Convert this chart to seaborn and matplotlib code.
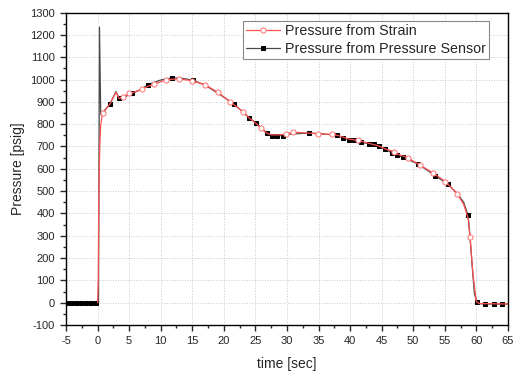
import numpy as np
import matplotlib
matplotlib.use("Agg")
import matplotlib.pyplot as plt
from matplotlib.ticker import MultipleLocator
import seaborn as sns

# --- data ---
# pressure from strain (red line, open circles)
strain_t = [0.0, 0.1, 0.2, 0.35, 0.5, 0.8, 1.95, 2.9, 3.4, 4.0, 5.0, 6.0,
            7.0, 8.0, 9.0, 10.9, 12.9, 14.9, 17.0, 19.1, 21.0, 23.0, 24.05, 25.05,
            25.9, 26.8, 27.6, 28.4, 29.3, 29.9, 31.0, 33.5, 34.9, 37.1, 38.0, 39.85,
            41.3, 43.0, 44.6, 45.5, 46.9, 47.5, 49.1, 51.0, 53.1, 55.1, 57.0, 58.0,
            58.7, 59.0, 59.5, 60.0, 60.5, 65.0]
strain_p = [0, 100, 500, 700, 800, 849, 890, 943, 915, 922, 939, 945,
            957, 970, 979, 1000, 1003, 995, 977, 942, 901, 856, 827, 805,
            782, 760, 752, 752, 753, 757, 764, 760, 757, 754, 750, 733,
            727, 714, 702, 690, 677, 666, 650, 618, 582, 543, 487, 440,
            380, 294, 120, 5, -4, -6]
strain_marked = [0.8, 4.0, 5.0, 7.0, 9.0, 10.9, 12.9, 14.9, 17.0, 19.1, 21.0, 23.0,
                 25.9, 29.9, 31.0, 34.9, 37.1, 41.3, 46.9, 49.1, 51.0, 53.1, 55.1,
                 57.0, 59.0]

# pressure from pressure sensor (dark line, filled squares)
sensor_t = [-5, -4.2, -3.4, -2.6, -1.8, -1.0, -0.2, 0.15, 0.3, 0.5, 1.95, 2.9, 3.4,
            4.5, 5.5, 6.8, 8.0, 10.0, 11.8, 13.5, 15.15, 17.0, 19.0, 21.6, 23.0,
            24.05, 25.05, 26.0, 26.8, 27.6, 28.4, 29.3, 30.5, 32.0, 33.5, 35.5,
            37.9, 38.9, 39.85, 40.6, 41.8, 43.0, 43.8, 44.6, 45.5, 46.7, 47.5, 48.4,
            50.7, 52.0, 53.5, 55.5, 57.0, 58.0, 58.7, 59.0, 59.3, 59.7, 60.1, 60.5,
            61.3, 62.8, 64.1, 65.0]
sensor_p = [0, 0, 0, 0, 0, 0, 0, 0, 1235, 842, 890, 946, 917,
            925, 938, 955, 977, 998, 1008, 1005, 997, 975, 940, 890, 856,
            827, 807, 782, 760, 749, 749, 749, 755, 758, 760, 757,
            750, 740, 730, 730, 719, 712, 710, 700, 688, 670, 662, 652,
            622, 598, 569, 531, 488, 450, 391, 300, 180, 40, 2, -4,
            -6, -6, -6, -6]
sensor_marked = [-5, -4.2, -3.4, -2.6, -1.8, -1.0, -0.2, 1.95, 3.4, 5.5, 8.0, 11.8,
                 15.15, 21.6, 24.05, 25.05, 26.8, 27.6, 28.4, 29.3, 33.5, 37.9,
                 38.9, 39.85, 40.6, 41.8, 43.0, 43.8, 44.6, 45.5, 46.7, 47.5, 48.4,
                 50.7, 53.5, 55.5, 58.7, 60.1, 61.3, 62.8, 64.1]

sns.set_style("ticks")
plt.rcParams["font.family"] = ["Liberation Sans", "DejaVu Sans"]
plt.rcParams["axes.unicode_minus"] = False

fig = plt.figure(figsize=(5.13, 3.71), dpi=100)
ax = fig.add_axes([0.1287, 0.124, 0.8613, 0.842])

s_idx = list(np.where(np.isin(strain_t, strain_marked))[0])
p_idx = list(np.where(np.isin(sensor_t, sensor_marked))[0])

sns.lineplot(x=sensor_t, y=sensor_p, ax=ax, color="#4a4a4a", lw=0.9,
             marker="s", markersize=2.9, markerfacecolor="black",
             markeredgecolor="black", markevery=p_idx, sort=False,
             label="Pressure from Pressure Sensor", zorder=2)
sns.lineplot(x=strain_t, y=strain_p, ax=ax, color="#ff5050", lw=0.9,
             marker="o", markersize=3.7, markerfacecolor="white",
             markeredgecolor="#ff7070", markeredgewidth=0.7, markevery=s_idx,
             sort=False, label="Pressure from Strain", zorder=3)

ax.set_xlim(-5, 65)
ax.set_ylim(-100, 1300)
ax.xaxis.set_major_locator(MultipleLocator(5))
ax.xaxis.set_minor_locator(MultipleLocator(2.5))
ax.yaxis.set_major_locator(MultipleLocator(100))
ax.yaxis.set_minor_locator(MultipleLocator(50))
ax.tick_params(which="major", direction="out", length=4.5, width=1, labelsize=8)
ax.tick_params(which="minor", direction="out", length=2.5, width=1)
ax.grid(True, which="major", ls=":", color="#c8c8c8", lw=0.7)
for sp in ax.spines.values():
    sp.set_linewidth(1.0)
    sp.set_color("black")

ax.set_xlabel("time [sec]", fontsize=10, labelpad=8)
ax.set_ylabel("Pressure [psig]", fontsize=10)

handles, labels = ax.get_legend_handles_labels()
order = [labels.index("Pressure from Strain"), labels.index("Pressure from Pressure Sensor")]
leg = ax.legend([handles[i] for i in order], [labels[i] for i in order],
                loc="upper right", bbox_to_anchor=(0.957, 0.972), fontsize=10.3,
                fancybox=False, framealpha=1, edgecolor="#888888",
                handlelength=2.4, borderpad=0.2, labelspacing=0.25,
                handletextpad=0.35, borderaxespad=0)
leg.get_frame().set_linewidth(0.8)

fig.savefig("out.png", dpi=100)
